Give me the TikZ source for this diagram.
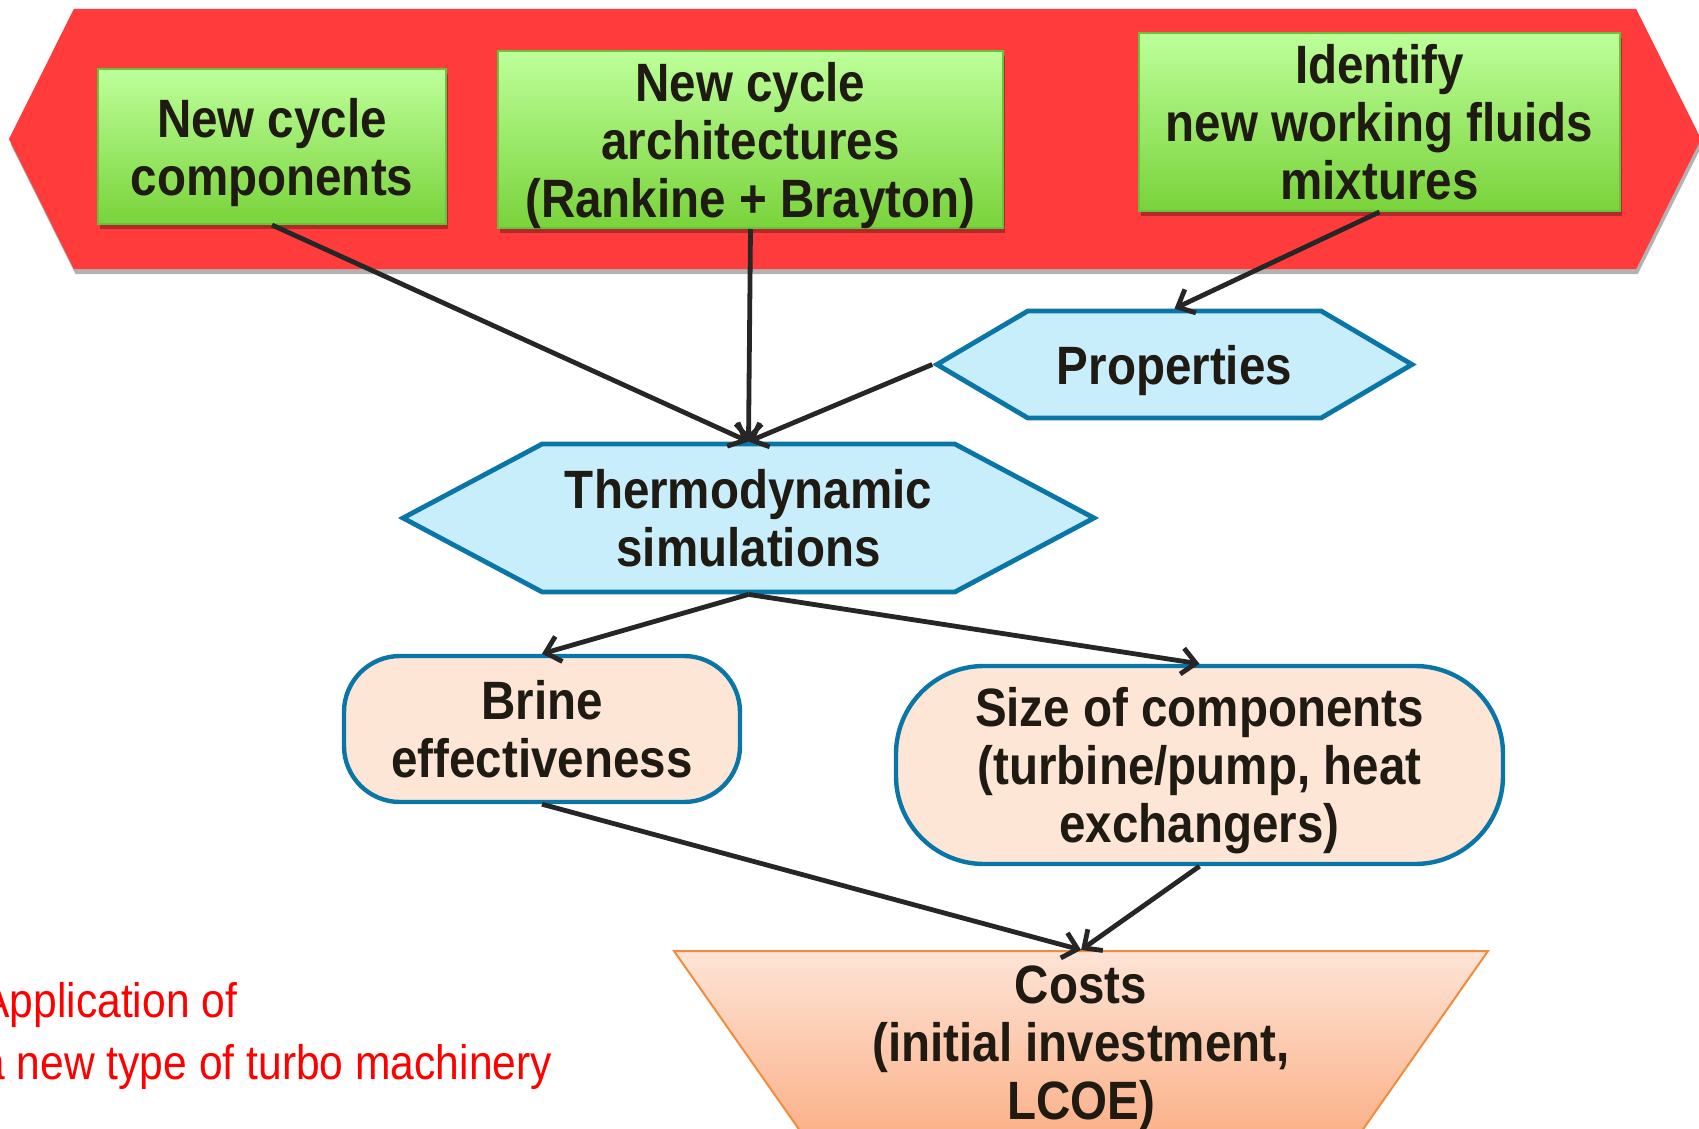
\documentclass[tikz,border=0pt]{standalone}
\usepackage{fontspec}
\setmainfont{Liberation Sans}[FakeStretch=0.88]
\usetikzlibrary{shapes.symbols,shapes.geometric,arrows.meta,shadows}

\definecolor{bannerred}{HTML}{FF3B3B}
\definecolor{greentop}{HTML}{BDFF9A}
\definecolor{greenbot}{HTML}{79D33A}
\definecolor{greenline}{HTML}{66C33C}
\definecolor{hexfill}{HTML}{C8EEFC}
\definecolor{blueline}{HTML}{0A76A8}
\definecolor{peach}{HTML}{FDE6D5}
\definecolor{costtop}{HTML}{FDE4D6}
\definecolor{costbot}{HTML}{FBB189}
\definecolor{costline}{HTML}{F08C3C}
\definecolor{arrowgray}{HTML}{262626}
\definecolor{inkdark}{HTML}{1F1A12}
\definecolor{notered}{HTML}{FF0000}

\tikzset{
  every node/.style={text=inkdark, font=\fontsize{27}{29}\selectfont\bfseries, align=center, inner sep=0pt, text depth=0pt},
  softshadow/.style={drop shadow={shadow xshift=0.8pt, shadow yshift=-2.5pt, opacity=0.3, fill=black}},
  banner/.style={signal, signal to=west and east, signal pointer angle=127, fill=bannerred, softshadow},
  greenbox/.style={rectangle, draw=greenline, line width=1pt, top color=greentop, bottom color=greenbot, softshadow},
  hexbox/.style={signal, signal to=west and east, draw=blueline, line width=2.4pt, fill=hexfill},
  roundbox/.style={rectangle, draw=blueline, line width=2.2pt, fill=peach},
  costbox/.style={trapezium, shape border rotate=180, trapezium angle=50, trapezium stretches body,
    draw=costline, line width=1pt, top color=costtop, bottom color=costbot},
  note/.style={text=notered, font=\fontsize{24.2}{31}\selectfont, align=left},
  flow/.style={draw=arrowgray, line width=2.4pt, -{Straight Barb[length=7pt,width=13pt]}},
}

\begin{document}
\begin{tikzpicture}[x=0.5pt,y=-0.5pt]
  \useasboundingbox (0,0) rectangle (1699,1129);
  % top band with the three inputs
  \node[banner, minimum width=846pt, minimum height=130pt] (banner) at (855,139) {};
  \node[greenbox, minimum width=174pt, minimum height=77.5pt] (cyclecomp) at (272,146.5) {New cycle\\components};
  \node[greenbox, minimum width=252.5pt, minimum height=88.5pt] (cyclearch) at (750.5,139.5) {New cycle\\architectures\\(Rankine + Brayton)};
  \node[greenbox, minimum width=240.5pt, minimum height=89pt] (fluids) at (1379.5,122) {Identify\\new working fluids\\mixtures};

  % hexagons
  \node[hexbox, signal pointer angle=61, minimum width=237.5pt, minimum height=53.5pt] (props) at (1174.5,364.5) {Properties};
  \node[hexbox, signal pointer angle=56, minimum width=345.5pt, minimum height=74pt] (thermo) at (748.5,518) {Thermodynamic\\simulations};

  % results
  \node[roundbox, rounded corners=28pt, minimum width=198pt, minimum height=73pt] (brine) at (542,729) {Brine\\effectiveness};
  \node[roundbox, rounded corners=44pt, minimum width=303.5pt, minimum height=99pt] (sizes) at (1199.5,765) {Size of components\\(turbine/pump, heat\\exchangers)};
  \node[costbox, minimum width=407pt, minimum height=92pt] (costs) at (1081,1043) {Costs\\(initial investment,\\LCOE)};

  \node[note, anchor=base west] (apply) at (-19,1079) {Application of\\a new type of turbo machinery};

  % connectors
  \draw[flow] (cyclecomp.south) -- (thermo.north);
  \draw[flow] (cyclearch.south) -- (thermo.north);
  \draw[flow] (fluids.south) -- (props.north);
  \draw[flow] (props.west) -- (thermo.north);
  \draw[flow] (thermo.south) -- (brine.north);
  \draw[flow] (thermo.south) -- (sizes.north);
  \draw[flow] (brine.south) -- (costs.north);
  \draw[flow] (sizes.south) -- (costs.north);
\end{tikzpicture}
\end{document}
